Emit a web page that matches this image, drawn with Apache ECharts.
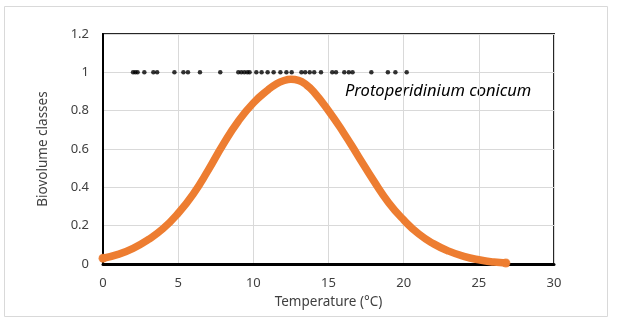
<!DOCTYPE html>
<html><head><meta charset="utf-8">
<script src="https://cdn.jsdelivr.net/npm/echarts@6/dist/echarts.min.js"></script>
<style>html,body{margin:0;padding:0;background:#fff}#c{width:620px;height:322px}</style>
</head><body><div id="c"></div>
<script>
// Fitted curve
const curveTemp = [0, 1, 2, 3, 4, 5, 6, 7, 8, 9, 10, 11, 11.5, 12, 12.5, 13, 13.5, 14, 15, 16, 17, 18, 19, 20, 21, 22, 23, 24, 25, 26, 26.8];
const curveVal  = [0.03, 0.05, 0.082, 0.127, 0.185, 0.265, 0.365, 0.49, 0.625, 0.745, 0.84, 0.91, 0.938, 0.956, 0.964, 0.958, 0.936, 0.9, 0.8, 0.685, 0.56, 0.435, 0.32, 0.23, 0.157, 0.105, 0.067, 0.04, 0.022, 0.01, 0.005];
// Observations (presence = 1)
const obsTemp = [2.0, 2.15, 2.3, 2.75, 3.35, 3.6, 4.75, 5.35, 5.65, 6.45, 7.8, 9.0, 9.2, 9.4, 9.6, 9.75, 10.2, 10.55, 10.95, 11.35, 11.8, 12.2, 12.55, 13.2, 13.45, 13.75, 14.05, 14.5, 15.25, 15.5, 16.05, 16.35, 16.6, 17.85, 18.95, 19.45, 20.2];
const obsVal = obsTemp.map(() => 1);
const xTitle = 'Temperature (°C)';
const yTitle = 'Biovolume classes';
const label = 'Protoperidinium conicum';

const chart = echarts.init(document.getElementById('c'));
const font = 'Noto Sans';
chart.setOption({
  animation: false,
  graphic: [
    {type: 'rect', shape: {x: 4.5, y: 6.5, width: 603, height: 310}, style: {fill: 'none', stroke: '#d9d9d9', lineWidth: 1}, z: -1},
    {type: 'text', left: 345, top: 83, style: {text: label, font: 'italic 16.5px "Noto Sans"', fill: '#000'}}
  ],
  grid: {left: 103, right: 66, top: 34, bottom: 58, show: true, borderColor: '#262626', borderWidth: 2, backgroundColor: 'transparent'},
  xAxis: {
    type: 'value', min: 0, max: 30, interval: 5,
    name: xTitle, nameLocation: 'middle', nameGap: 28,
    nameTextStyle: {fontFamily: font, fontSize: 13.5, color: '#404040'},
    axisLine: {lineStyle: {color: '#000', width: 3}},
    axisTick: {show: false},
    axisLabel: {fontFamily: font, fontSize: 13, color: '#404040', margin: 13},
    splitLine: {lineStyle: {color: '#d9d9d9'}}
  },
  yAxis: {
    type: 'value', min: 0, max: 1.2, interval: 0.2,
    name: yTitle, nameLocation: 'middle', nameGap: 53,
    nameTextStyle: {fontFamily: font, fontSize: 13.5, color: '#404040'},
    axisLine: {show: true, lineStyle: {color: '#000', width: 2}},
    axisTick: {show: false},
    axisLabel: {fontFamily: font, fontSize: 13, color: '#404040', margin: 14,
      formatter: v => String(Math.round(v * 10) / 10)},
    splitLine: {lineStyle: {color: '#d9d9d9'}}
  },
  series: [
    {
      type: 'line', data: curveTemp.map((t, i) => [t, curveVal[i]]),
      smooth: 0.5, clip: false, showSymbol: false,
      lineStyle: {color: '#ED7D31', width: 7.5, cap: 'round'}, z: 3
    },
    {
      type: 'scatter', data: [[curveTemp[0], curveVal[0]], [curveTemp[curveTemp.length - 1], curveVal[curveVal.length - 1]]],
      symbolSize: 9, itemStyle: {color: '#ED7D31'}, clip: false, z: 3
    },
    {
      type: 'scatter', data: obsTemp.map((t, i) => [t, obsVal[i]]),
      symbolSize: 4.5, itemStyle: {color: '#000'}, z: 4
    }
  ]
});
</script></body></html>
